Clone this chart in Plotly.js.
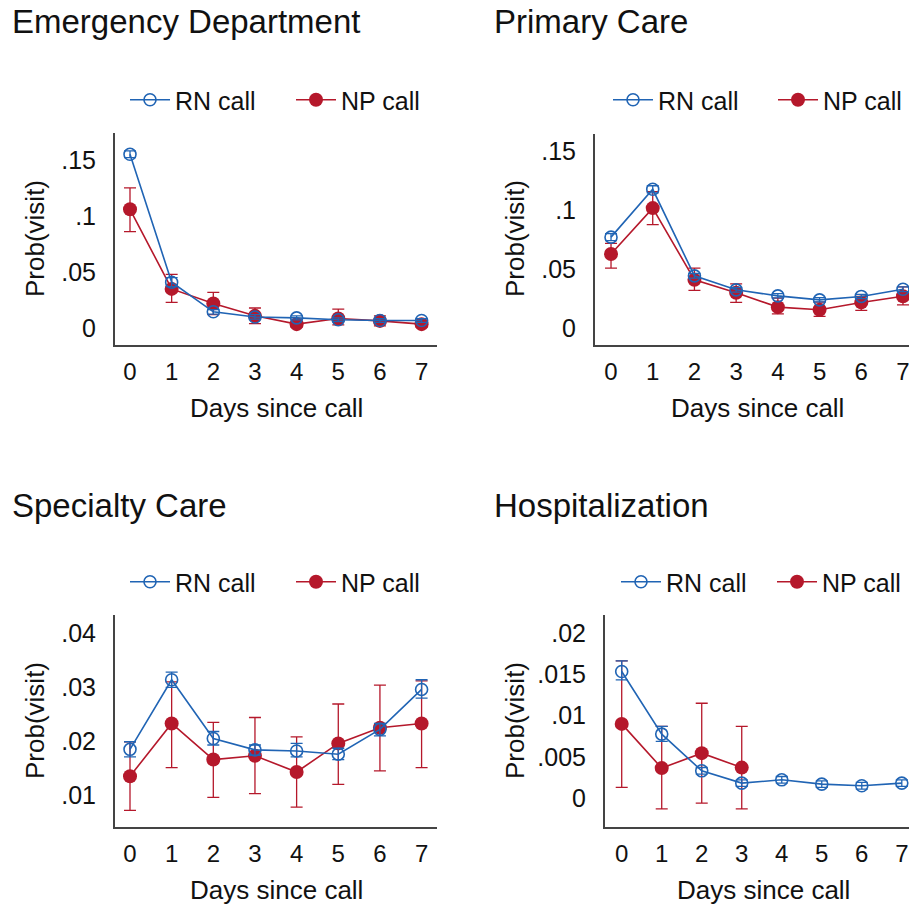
<!DOCTYPE html>
<html>
<head>
<meta charset="utf-8">
<script src="https://cdn.plot.ly/plotly-3.0.1.min.js"></script>
<style>
html,body{margin:0;padding:0;overflow:hidden;background:#fff;}
#chart{width:1000px;height:904px;}
</style>
</head>
<body>
<div id="chart"></div>
<script>
// ---------------- DATA ----------------
const days = [0, 1, 2, 3, 4, 5, 6, 7];
const daysNPHosp = [0, 1, 2, 3];

// Emergency Department
const edRN      = [0.155, 0.041, 0.0146, 0.010, 0.0092, 0.0075, 0.0068, 0.0068];
const edRNlo    = [0.152, 0.037, 0.0126, 0.008, 0.0074, 0.0058, 0.0052, 0.0052];
const edRNhi    = [0.158, 0.045, 0.0166, 0.012, 0.0110, 0.0092, 0.0084, 0.0084];
const edNP      = [0.106, 0.035, 0.022, 0.011, 0.0036, 0.0086, 0.0065, 0.0036];
const edNPlo    = [0.086, 0.023, 0.012, 0.004, 0.0010, 0.0030, 0.0020, 0.0010];
const edNPhi    = [0.125, 0.048, 0.032, 0.018, 0.0062, 0.0170, 0.0110, 0.0062];

// Primary Care
const pcRN      = [0.0773, 0.118, 0.0444, 0.0325, 0.0274, 0.0240, 0.0269, 0.0330];
const pcRNlo    = [0.0743, 0.115, 0.0424, 0.0305, 0.0256, 0.0222, 0.0251, 0.0310];
const pcRNhi    = [0.0803, 0.121, 0.0464, 0.0345, 0.0292, 0.0258, 0.0287, 0.0350];
const pcNP      = [0.063, 0.102, 0.041, 0.030, 0.0178, 0.0156, 0.0218, 0.027];
const pcNPlo    = [0.051, 0.088, 0.032, 0.0218, 0.012, 0.010, 0.015, 0.0198];
const pcNPhi    = [0.072, 0.116, 0.051, 0.0376, 0.0255, 0.022, 0.027, 0.035];

// Specialty Care
const scRN      = [0.0185, 0.0314, 0.0205, 0.0184, 0.0182, 0.0176, 0.0222, 0.0296];
const scRNlo    = [0.0171, 0.0300, 0.0193, 0.0174, 0.0171, 0.0166, 0.0210, 0.0280];
const scRNhi    = [0.0199, 0.0328, 0.0218, 0.0193, 0.0196, 0.0187, 0.0233, 0.0314];
const scNP      = [0.0135, 0.0233, 0.0166, 0.0173, 0.0143, 0.0196, 0.0225, 0.0233];
const scNPlo    = [0.0072, 0.0151, 0.0096, 0.0103, 0.0078, 0.0120, 0.0145, 0.0151];
const scNPhi    = [0.0199, 0.0310, 0.0235, 0.0244, 0.0208, 0.0269, 0.0304, 0.0312];

// Hospitalization
const hoRN      = [0.01535, 0.00776, 0.00331, 0.00182, 0.00222, 0.0017, 0.0015, 0.00182];
const hoRNlo    = [0.01434, 0.00687, 0.00291, 0.00142, 0.00182, 0.0013, 0.0011, 0.00142];
const hoRNhi    = [0.01665, 0.00870, 0.00371, 0.00222, 0.00262, 0.0021, 0.0019, 0.00222];
const hoNP      = [0.0090, 0.00364, 0.00545, 0.0037];
const hoNPlo    = [0.0013, -0.0013, -0.0006, -0.0013];
const hoNPhi    = [0.01665, 0.0087, 0.0115, 0.0087];

// Tick labels
const tvEDPC = [0, 0.05, 0.1, 0.15];
const ttEDPC = ['0', '.05', '.1', '.15'];
const tvSC   = [0.01, 0.02, 0.03, 0.04];
const ttSC   = ['.01', '.02', '.03', '.04'];
const tvHO   = [0, 0.005, 0.01, 0.015, 0.02];
const ttHO   = ['0', '.005', '.01', '.015', '.02'];

const panelTitles = ['Emergency Department', 'Primary Care', 'Specialty Care', 'Hospitalization'];
const seriesNames = ['RN call', 'NP call'];
const xTitle = 'Days since call';
const yTitle = 'Prob(visit)';

// ---------------- STYLE ----------------
const W = 1000, H = 904;
const BLUE = '#2064b4', RED = '#b5182b';
const FONT = 'Liberation Sans, Arial, sans-serif';
const px = v => v / W;
const py = v => 1 - v / H;

function diff(a, b) { return a.map((v, i) => v - b[i]); }

function rnTrace(x, y, lo, hi, ax, leg) {
  return {
    x: x, y: y, type: 'scatter', mode: 'lines+markers', name: seriesNames[0],
    xaxis: ax[0], yaxis: ax[1], legend: leg,
    line: {color: BLUE, width: 1.6},
    marker: {symbol: 'circle-open', size: 12, color: BLUE, line: {width: 1.6, color: BLUE}},
    error_y: {type: 'data', symmetric: false, array: diff(hi, y), arrayminus: diff(y, lo),
              color: BLUE, thickness: 1.3, width: 6},
    cliponaxis: false
  };
}
function npTrace(x, y, lo, hi, ax, leg) {
  return {
    x: x, y: y, type: 'scatter', mode: 'lines+markers', name: seriesNames[1],
    xaxis: ax[0], yaxis: ax[1], legend: leg,
    line: {color: RED, width: 1.6},
    marker: {symbol: 'circle', size: 14, color: RED},
    error_y: {type: 'data', symmetric: false, array: diff(hi, y), arrayminus: diff(y, lo),
              color: RED, thickness: 1.3, width: 6},
    cliponaxis: false
  };
}

const data = [
  npTrace(days, edNP, edNPlo, edNPhi, ['x', 'y'], 'legend'),
  rnTrace(days, edRN, edRNlo, edRNhi, ['x', 'y'], 'legend'),
  npTrace(days, pcNP, pcNPlo, pcNPhi, ['x2', 'y2'], 'legend2'),
  rnTrace(days, pcRN, pcRNlo, pcRNhi, ['x2', 'y2'], 'legend2'),
  npTrace(days, scNP, scNPlo, scNPhi, ['x3', 'y3'], 'legend3'),
  rnTrace(days, scRN, scRNlo, scRNhi, ['x3', 'y3'], 'legend3'),
  npTrace(daysNPHosp, hoNP, hoNPlo, hoNPhi, ['x4', 'y4'], 'legend4'),
  rnTrace(days, hoRN, hoRNlo, hoRNhi, ['x4', 'y4'], 'legend4')
];

function xax(d0, d1, r, anchor) {
  return {
    domain: [px(d0), px(d1)], range: r, anchor: anchor,
    tickvals: days, ticktext: days.map(String),
    showgrid: false, zeroline: false, showline: true, linecolor: '#444', linewidth: 2,
    ticks: '', ticklabelstandoff: 4,
    tickfont: {family: FONT, size: 24, color: '#111'}
  };
}
function yax(t0, t1, r, tv, tt, anchor) {
  return {
    domain: [py(t1), py(t0)], range: r, anchor: anchor,
    tickvals: tv, ticktext: tt,
    showgrid: false, zeroline: false, showline: true, linecolor: '#444', linewidth: 2,
    ticks: '', ticklabelstandoff: 12,
    tickfont: {family: FONT, size: 25, color: '#111'}
  };
}
function legend(xp, yp, ew) {
  return {
    orientation: 'h', x: px(xp), y: py(yp), xanchor: 'left', yanchor: 'middle',
    entrywidth: ew, entrywidthmode: 'pixels', traceorder: 'reversed', itemwidth: 40,
    font: {family: FONT, size: 25, color: '#111'}, bgcolor: 'rgba(0,0,0,0)'
  };
}

const ann = [];
function txt(t, x, y, size, xa, rot) {
  ann.push({text: t, x: px(x), y: py(y), xref: 'paper', yref: 'paper', showarrow: false,
            xanchor: xa, yanchor: 'middle', textangle: rot || 0,
            font: {family: FONT, size: size, color: '#111'}});
}
txt(panelTitles[0], 10, 22, 33, 'left');
txt(panelTitles[1], 492, 22, 33, 'left');
txt(panelTitles[2], 10, 505, 33, 'left');
txt(panelTitles[3], 492, 505, 33, 'left');
txt(yTitle, 35, 239, 26, 'center', -90);
txt(yTitle, 515, 239, 26, 'center', -90);
txt(yTitle, 35, 721, 26, 'center', -90);
txt(yTitle, 515, 721, 26, 'center', -90);
txt(xTitle, 276, 408, 26, 'center');
txt(xTitle, 757, 408, 26, 'center');
txt(xTitle, 276, 890, 26, 'center');
txt(xTitle, 763, 890, 26, 'center');

const layout = {
  width: W, height: H, margin: {l: 0, r: 0, t: 0, b: 0},
  paper_bgcolor: '#fff', plot_bgcolor: '#fff', showlegend: true,
  xaxis:  xax(115, 437, [-0.36, 7.37], 'y'),
  yaxis:  yax(133, 345, [-0.015, 0.174], tvEDPC, ttEDPC, 'x'),
  xaxis2: xax(595, 918, [-0.384, 7.36], 'y2'),
  yaxis2: yax(134, 345, [-0.0144, 0.165], tvEDPC, ttEDPC, 'x2'),
  xaxis3: xax(115, 437, [-0.36, 7.37], 'y3'),
  yaxis3: yax(615, 827, [0.0041, 0.0434], tvSC, ttSC, 'x3'),
  xaxis4: xax(605, 917, [-0.4175, 7.38], 'y4'),
  yaxis4: yax(615, 827, [-0.0035, 0.0222], tvHO, ttHO, 'x4'),
  legend:  legend(125, 100, 111),
  legend2: legend(608, 100, 110),
  legend3: legend(125, 582, 111),
  legend4: legend(616, 582, 101),
  annotations: ann
};

Plotly.newPlot('chart', data, layout, {displayModeBar: false, staticPlot: true});
</script>
</body>
</html>
